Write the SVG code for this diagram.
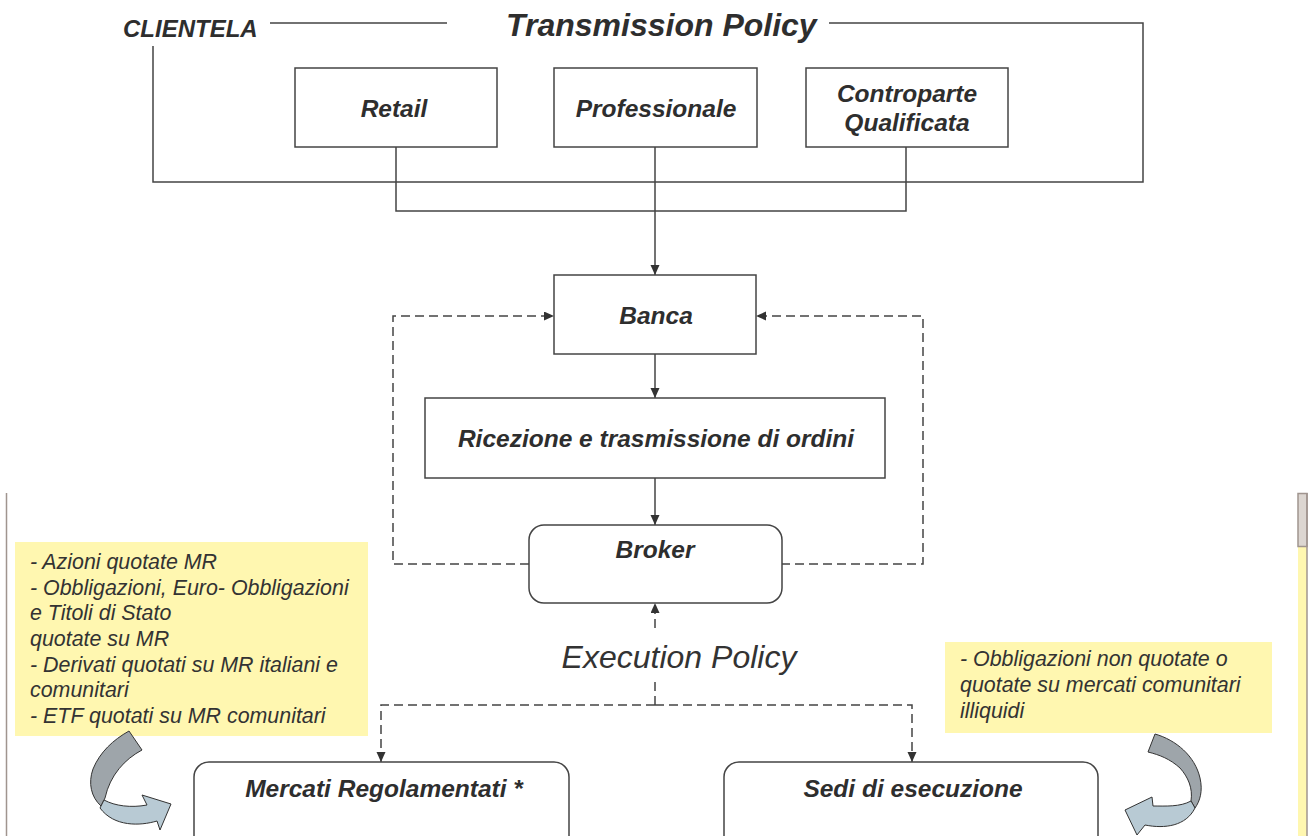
<svg xmlns="http://www.w3.org/2000/svg" width="1308" height="836" viewBox="0 0 1308 836">
<defs>
<style>
.box{fill:#fff;stroke:#444;stroke-width:1.5}
.lbl{font-family:"Liberation Sans",Arial,sans-serif;font-weight:bold;font-style:italic;font-size:24.5px;fill:#2e2e2e;text-anchor:middle}
.note{font-family:"Liberation Sans",Arial,sans-serif;font-style:italic;font-size:21.4px;fill:#333}
.ln{fill:none;stroke:#444;stroke-width:1.5}
.dash{fill:none;stroke:#444;stroke-width:1.5;stroke-dasharray:9,5}
.yel{fill:#fff7b0}
.ra{stroke:#333;stroke-width:1;stroke-linejoin:round}
</style>
<marker id="ah" markerUnits="userSpaceOnUse" markerWidth="12" markerHeight="10" refX="10" refY="4.5" orient="auto">
<path d="M0,0 L10,4.5 L0,9 z" fill="#333"/>
</marker>
</defs>
<rect width="1308" height="836" fill="#fff"/>

<g id="frame">
<path class="ln" d="M270,23 H447 M829,23 H1143 V182 H153 V46"/>
<text x="123" y="37" font-family="Liberation Sans,Arial,sans-serif" font-weight="bold" font-style="italic" font-size="24" fill="#2e2e2e">CLIENTELA</text>
<text x="506" y="36" font-family="Liberation Sans,Arial,sans-serif" font-weight="bold" font-style="italic" font-size="32" fill="#2e2e2e">Transmission Policy</text>
</g>

<g id="connectors">
<path class="ln" d="M396,147 V211 H906 V147"/>
<path class="ln" d="M655,147 V275" marker-end="url(#ah)"/>
<path class="ln" d="M655,354 V398" marker-end="url(#ah)"/>
<path class="ln" d="M655,478 V525" marker-end="url(#ah)"/>
<path class="dash" d="M529,564 H393 V316 H554" marker-end="url(#ah)"/>
<path class="dash" d="M781,564 H923 V316 H756" marker-end="url(#ah)"/>
<path class="dash" d="M655,628 V603" marker-end="url(#ah)"/>
<path class="dash" d="M655,682 V705"/>
<path class="dash" d="M655,705 H381 V762" marker-end="url(#ah)"/>
<path class="dash" d="M655,705 H912 V762" marker-end="url(#ah)"/>
</g>

<g id="retail">
<rect class="box" x="295" y="68" width="202" height="79"/>
<text class="lbl" x="394" y="117">Retail</text>
</g>
<g id="professionale">
<rect class="box" x="554" y="68" width="203" height="79"/>
<text class="lbl" x="656" y="117">Professionale</text>
</g>
<g id="controparte">
<rect class="box" x="806" y="68" width="202" height="79"/>
<text class="lbl" x="907" y="102">Controparte</text>
<text class="lbl" x="907" y="131">Qualificata</text>
</g>
<g id="banca">
<rect class="box" x="554" y="275" width="202" height="79"/>
<text class="lbl" x="656" y="324">Banca</text>
</g>
<g id="ricezione">
<rect class="box" x="425" y="398" width="460" height="80"/>
<text class="lbl" x="656" y="447">Ricezione e trasmissione di ordini</text>
</g>
<g id="broker">
<rect class="box" x="529" y="525" width="253" height="78" rx="15"/>
<text class="lbl" x="655" y="558">Broker</text>
</g>
<g id="execution-policy">
<text x="679" y="668" font-family="Liberation Sans,Arial,sans-serif" font-style="italic" font-size="32" fill="#333" text-anchor="middle">Execution Policy</text>
</g>
<g id="mercati">
<rect class="box" x="194" y="762" width="375" height="100" rx="15"/>
<text class="lbl" x="384" y="797">Mercati Regolamentati *</text>
</g>
<g id="sedi">
<rect class="box" x="724" y="762" width="374" height="100" rx="15"/>
<text class="lbl" x="913" y="797">Sedi di esecuzione</text>
</g>

<g id="note-left">
<rect class="yel" x="15" y="542" width="353" height="194"/>
<text class="note" x="30" y="569">- Azioni quotate MR</text>
<text class="note" x="30" y="595">- Obbligazioni, Euro- Obbligazioni</text>
<text class="note" x="30" y="620">e Titoli di Stato</text>
<text class="note" x="30" y="646">quotate su MR</text>
<text class="note" x="30" y="672">- Derivati quotati su MR italiani e</text>
<text class="note" x="30" y="697">comunitari</text>
<text class="note" x="30" y="723">- ETF quotati su MR comunitari</text>
</g>
<g id="note-right">
<rect class="yel" x="945" y="642" width="327" height="91"/>
<text class="note" x="960" y="666">- Obbligazioni non quotate o</text>
<text class="note" x="960" y="692">quotate su mercati comunitari</text>
<text class="note" x="960" y="718">illiquidi</text>
</g>

<g id="arrow-left">
<path class="ra" fill="#9ea5aa" d="M129,731 L142,750 C125,759 110,775 105,798 L101,806 C91,797 88,783 93,769 C100,752 113,740 129,731 Z"/>
<path class="ra" fill="#b8cad4" d="M104,800 C115,806 131,808 147,805 L142,795 L171,804 L160,830 L157,821 C140,826 114,827 100,808 Z"/>
</g>
<g id="arrow-right">
<path class="ra" fill="#9ea5aa" d="M1155,734 C1176,740 1195,756 1200,778 C1203,791 1200,801 1195,808 L1191,801 C1193,788 1188,777 1180,768 C1170,759 1160,755 1148,752 Z"/>
<path class="ra" fill="#b8cad4" d="M1191,801 C1180,807 1166,806 1153,806 L1152,797 L1125,810 L1137,835 L1145,825 C1165,829 1186,826 1195,808 Z"/>
</g>

<g id="page-edges">
<line x1="6.5" y1="493" x2="6.5" y2="836" stroke="#a0958f" stroke-width="1.5"/>
<rect x="1298" y="547" width="9" height="289" fill="#fff7b0"/>
<rect x="1298" y="493.5" width="9" height="53" fill="#dcd6d1" stroke="#a0958f" stroke-width="1.5"/>
<line x1="1307" y1="493" x2="1307" y2="836" stroke="#a0958f" stroke-width="1.5"/>
</g>
</svg>
